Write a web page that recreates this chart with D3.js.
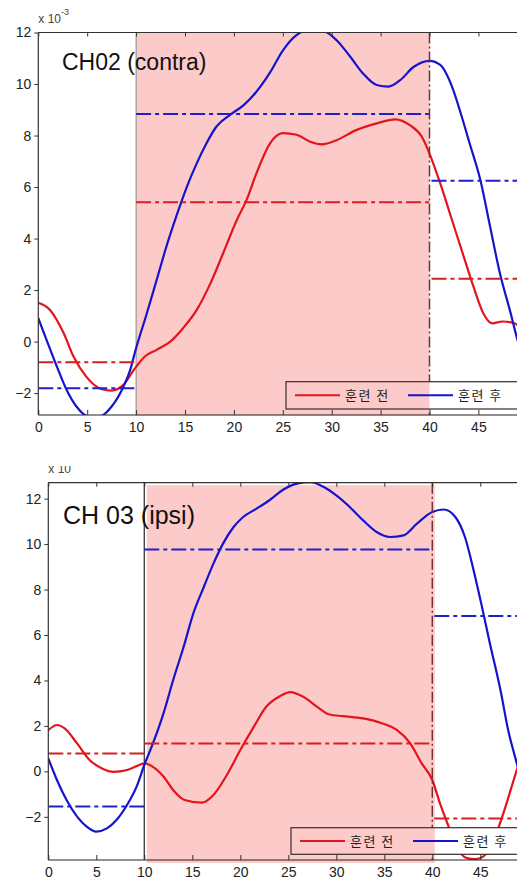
<!DOCTYPE html>
<html>
<head>
<meta charset="utf-8">
<script src="https://cdn.jsdelivr.net/npm/d3@7"></script>
<style>
  body { margin: 0; background: #fff; }
  svg { display: block; }
  .tick-label { font-family: "Liberation Sans", Arial, sans-serif; font-size: 14px; fill: #222; }
  .legend-label { font-family: "Noto Sans CJK KR", sans-serif; font-size: 13px; fill: #222; letter-spacing: 1.5px; }
</style>
</head>
<body>
<svg id="chart" width="517" height="882"></svg>
<script>
// ---- data (units of 1e-3) ----
let xTicks = [0, 5, 10, 15, 20, 25, 30, 35, 40, 45];
let yTicks = [-2, 0, 2, 4, 6, 8, 10, 12];
let seriesNames = ["훈련 전", "훈련 후"];
let segments = [[0, 10], [10, 40], [40, 50]];

// CH02 (contra)
let ch02PreX = [0, 1.2, 2.6, 3.6, 4.9, 6.5, 7.5, 8.7, 9.9, 10.9, 12.1, 13.5, 14.8, 16.2, 17.6, 18.9, 20.3, 21.3, 22.3, 23.7, 25.0, 26.4, 27.8, 29.0, 30.5, 32.5, 34.6, 36.5, 38.0, 39.2, 40.0, 41.1, 42.3, 43.5, 44.5, 45.5, 46.4, 47.5, 48.7, 50];
let ch02PreY = [1.51, 1.23, 0.32, -0.58, -1.36, -1.85, -1.9, -1.68, -1.03, -0.58, -0.32, 0, 0.52, 1.23, 2.26, 3.43, 4.72, 5.5, 6.53, 7.7, 8.09, 8.03, 7.76, 7.66, 7.82, 8.21, 8.47, 8.63, 8.4, 7.96, 7.3, 6.14, 4.72, 3.3, 2.13, 1.1, 0.71, 0.78, 0.71, 0.1];
let ch02PostX = [0, 0.85, 1.9, 2.9, 3.9, 5.1, 6.3, 7.5, 8.7, 9.4, 9.9, 11.1, 12.1, 13.1, 14.1, 15.2, 16.2, 17.2, 18.2, 19.6, 21.0, 22.3, 23.7, 25.0, 26.4, 27.8, 29.2, 30.5, 31.9, 33.2, 34.6, 35.8, 37.0, 38.4, 40.0, 41.1, 42.3, 43.3, 44.1, 45.2, 46.2, 47.2, 48.3, 48.9, 50];
let ch02PostY = [0.91, 0.06, -0.97, -1.88, -2.52, -2.9, -2.9, -2.52, -1.75, -1.1, -0.39, 1.1, 2.39, 3.69, 4.85, 6.02, 6.92, 7.7, 8.34, 8.8, 9.18, 9.7, 10.45, 11.3, 11.9, 12.1, 12.05, 11.7, 11.06, 10.41, 9.96, 9.9, 10.15, 10.67, 10.9, 10.74, 9.9, 8.73, 7.7, 6.27, 4.46, 2.65, 1.1, 0.2, -1.2];
let ch02PreMean = [-0.80, 5.41, 2.44];
let ch02PostMean = [-1.81, 8.84, 6.24];

// CH 03 (ipsi)
let ch03PreX = [0, 0.9, 1.7, 3.0, 4.3, 5.6, 6.8, 8.2, 9.2, 10.0, 10.9, 12.0, 13.0, 14.2, 16.0, 17.2, 18.6, 20.0, 21.4, 22.7, 24.1, 25.2, 26.6, 28.0, 29.3, 30.7, 32.8, 34.6, 36.3, 37.7, 38.9, 40.0, 40.8, 41.7, 42.5, 43.6, 44.5, 45.3, 46.4, 47.4, 48.8, 50];
let ch03PreY = [1.81, 2.04, 1.89, 1.23, 0.5, 0.13, -0.02, 0.06, 0.23, 0.35, 0.2, -0.23, -0.82, -1.26, -1.38, -1.04, -0.16, 0.94, 1.96, 2.84, 3.3, 3.49, 3.27, 2.84, 2.5, 2.43, 2.33, 2.14, 1.82, 1.23, 0.35, -0.38, -1.41, -2.43, -3.3, -3.82, -3.86, -3.75, -3.02, -1.85, 0.06, 1.6];
let ch03PostX = [0, 0.9, 1.9, 3.0, 4.0, 5.0, 6.1, 7.1, 8.2, 9.2, 10.0, 10.9, 12.0, 13.0, 14.1, 15.1, 16.2, 17.2, 18.2, 19.3, 20.3, 21.7, 23.1, 24.5, 25.9, 27.3, 28.7, 30.0, 31.4, 32.8, 34.2, 35.6, 37.0, 38.4, 40.0, 41.2, 42.4, 43.4, 44.3, 45.1, 46.0, 47.1, 47.9, 48.8, 50];
let ch03PostY = [0.57, -0.38, -1.26, -1.99, -2.43, -2.65, -2.51, -2.14, -1.48, -0.67, 0.28, 1.23, 2.55, 4.01, 5.48, 6.94, 8.11, 9.14, 10.02, 10.75, 11.19, 11.56, 11.95, 12.4, 12.66, 12.72, 12.51, 12.14, 11.63, 11.04, 10.53, 10.31, 10.38, 10.9, 11.41, 11.52, 11.19, 10.31, 8.85, 7.38, 5.63, 3.58, 1.82, 0.36, -1.4];
let ch03PreMean = [0.79, 1.23, -2.07];
let ch03PostMean = [-1.55, 9.76, 6.83];

// ---- layout ----
let panels = [
  { title: "CH02 (contra)", titleX: 62, titleY: 70, titleSize: 23,
    xRange: [38.3, 527.3], yDomain: [-2.85, 12], yRange: [415, 32.5],
    preX: ch02PreX, preY: ch02PreY, postX: ch02PostX, postY: ch02PostY,
    preMean: ch02PreMean, postMean: ch02PostMean,
    shadeDx: 0, shadeDy: 0, line10: "#8a8a8a", line10W: 1,
    expY: 23, expClip: 0,
    legend: { x: 286, y: 381.7, h: 27.3 } },
  { title: "CH 03 (ipsi)", titleX: 63, titleY: 524, titleSize: 25,
    xRange: [48.3, 528.3], yDomain: [-3.9, 12.7], yRange: [860, 482.7],
    preX: ch03PreX, preY: ch03PreY, postX: ch03PostX, postY: ch03PostY,
    preMean: ch03PreMean, postMean: ch03PostMean,
    shadeDx: 2.5, shadeDy: 2.5, line10: "#444", line10W: 1.4,
    expY: 473, expClip: 466,
    legend: { x: 291, y: 827.7, h: 26.6 } }
];

let red = "#e3141a", blue = "#1414cc";
let redMean = "#d42020", blueMean = "#2020c8";
let pink = "#fdcaca";

let svg = d3.select("#chart");

panels.forEach(function(p, i) {
  let x = d3.scaleLinear().domain([0, 50]).range(p.xRange);
  let y = d3.scaleLinear().domain(p.yDomain).range(p.yRange);
  let left = p.xRange[0], right = p.xRange[1];
  let top = p.yRange[1], bottom = p.yRange[0];

  let g = svg.append("g");

  svg.append("clipPath").attr("id", "clip" + i)
    .append("rect").attr("x", left).attr("y", top)
    .attr("width", right - left).attr("height", bottom - top);

  // shaded training window
  g.append("rect")
    .attr("x", x(10) + p.shadeDx).attr("y", top + p.shadeDy)
    .attr("width", x(40) - x(10)).attr("height", bottom - top + 0.5)
    .attr("fill", pink);

  g.append("line")
    .attr("x1", x(10)).attr("x2", x(10)).attr("y1", top).attr("y2", bottom)
    .attr("stroke", p.line10).attr("stroke-width", p.line10W);

  let plot = g.append("g").attr("clip-path", "url(#clip" + i + ")");

  let line = d3.line()
    .x(d => x(d[0])).y(d => y(d[1]))
    .curve(d3.curveMonotoneX);

  let pre = p.preX.map((v, k) => [v, p.preY[k]]);
  let post = p.postX.map((v, k) => [v, p.postY[k]]);

  plot.append("path").datum(pre).attr("d", line)
    .attr("fill", "none").attr("stroke", red).attr("stroke-width", 2.2);
  plot.append("path").datum(post).attr("d", line)
    .attr("fill", "none").attr("stroke", blue).attr("stroke-width", 2.2);

  // mean levels per period
  [[p.preMean, redMean], [p.postMean, blueMean]].forEach(function(m) {
    plot.selectAll(null)
      .data(segments).enter()
      .append("line")
      .attr("x1", (d, k) => x(d[0]) + (k == 2 ? 2 : 0))
      .attr("x2", d => x(d[1]))
      .attr("y1", (d, k) => y(m[0][k]))
      .attr("y2", (d, k) => y(m[0][k]))
      .attr("stroke", m[1]).attr("stroke-width", 2)
      .attr("stroke-dasharray", "15,4,4,4");
  });

  // end of training marker
  g.append("line")
    .attr("x1", x(40)).attr("x2", x(40)).attr("y1", top).attr("y2", bottom)
    .attr("stroke", "#6b3535").attr("stroke-width", 1.5)
    .attr("stroke-dasharray", "11,3,2,3");

  // axes frame
  g.append("line").attr("x1", left).attr("x2", right).attr("y1", top).attr("y2", top)
    .attr("stroke", "#333").attr("stroke-width", 1.2);
  g.append("line").attr("x1", left).attr("x2", right).attr("y1", bottom).attr("y2", bottom)
    .attr("stroke", "#222").attr("stroke-width", 1.2);
  g.append("line").attr("x1", left).attr("x2", left).attr("y1", top).attr("y2", bottom)
    .attr("stroke", "#333").attr("stroke-width", 1.2);

  // x ticks (inside, top and bottom)
  let xb = g.append("g").attr("transform", "translate(0," + bottom + ")")
    .call(d3.axisBottom(x).tickValues(xTicks).tickSizeInner(-5).tickSizeOuter(0).tickPadding(7.5));
  let xt = g.append("g").attr("transform", "translate(0," + top + ")")
    .call(d3.axisTop(x).tickValues(xTicks).tickSizeInner(-4).tickSizeOuter(0).tickFormat(""));
  let yl = g.append("g").attr("transform", "translate(" + left + ",0)")
    .call(d3.axisLeft(y).tickValues(yTicks).tickSizeInner(4).tickSizeOuter(0).tickPadding(3));

  [xb, xt, yl].forEach(function(a) {
    a.select(".domain").remove();
    a.selectAll(".tick line").attr("stroke", "#333").attr("stroke-width", 1);
    a.selectAll(".tick text").attr("class", "tick-label").attr("fill", null)
      .attr("font-size", null).attr("font-family", null);
  });

  // exponent label
  let eg = g.append("g");
  if (p.expClip) {
    svg.append("clipPath").attr("id", "expclip" + i)
      .append("rect").attr("x", 0).attr("y", p.expClip).attr("width", 120).attr("height", 30);
    eg.attr("clip-path", "url(#expclip" + i + ")");
  }
  let et = eg.append("text").attr("x", left).attr("y", p.expY)
    .attr("font-family", "Liberation Sans, Arial, sans-serif").attr("font-size", 12)
    .attr("fill", "#444").text("x 10");
  et.append("tspan").attr("dy", -8).attr("font-size", 9).text("-3");

  // title
  g.append("text").attr("x", p.titleX).attr("y", p.titleY)
    .attr("font-family", "Liberation Sans, Arial, sans-serif")
    .attr("font-size", p.titleSize).attr("fill", "#111").text(p.title);

  // legend
  let L = p.legend;
  let lg = g.append("g");
  lg.append("rect").attr("x", L.x).attr("y", L.y).attr("width", 250).attr("height", L.h)
    .attr("fill", "#fff");
  lg.append("rect").attr("x", L.x).attr("y", L.y)
    .attr("width", x(40) + p.shadeDx - L.x).attr("height", L.h)
    .attr("fill", pink);
  lg.append("rect").attr("x", L.x).attr("y", L.y).attr("width", 250).attr("height", L.h)
    .attr("fill", "none").attr("stroke", "#3a2a2a").attr("stroke-width", 1.2);
  let cy = L.y + L.h / 2;
  let items = [
    { name: seriesNames[0], color: red, x0: L.x + 9 },
    { name: seriesNames[1], color: blue, x0: L.x + 122 }
  ];
  lg.selectAll(".lg-line").data(items).enter().append("line")
    .attr("x1", d => d.x0).attr("x2", d => d.x0 + 45)
    .attr("y1", cy).attr("y2", cy)
    .attr("stroke", d => d.color).attr("stroke-width", 2);
  lg.selectAll(".lg-text").data(items).enter().append("text")
    .attr("class", "legend-label")
    .attr("x", d => d.x0 + 50).attr("y", cy + 4.5)
    .text(d => d.name);
});
</script>
</body>
</html>
